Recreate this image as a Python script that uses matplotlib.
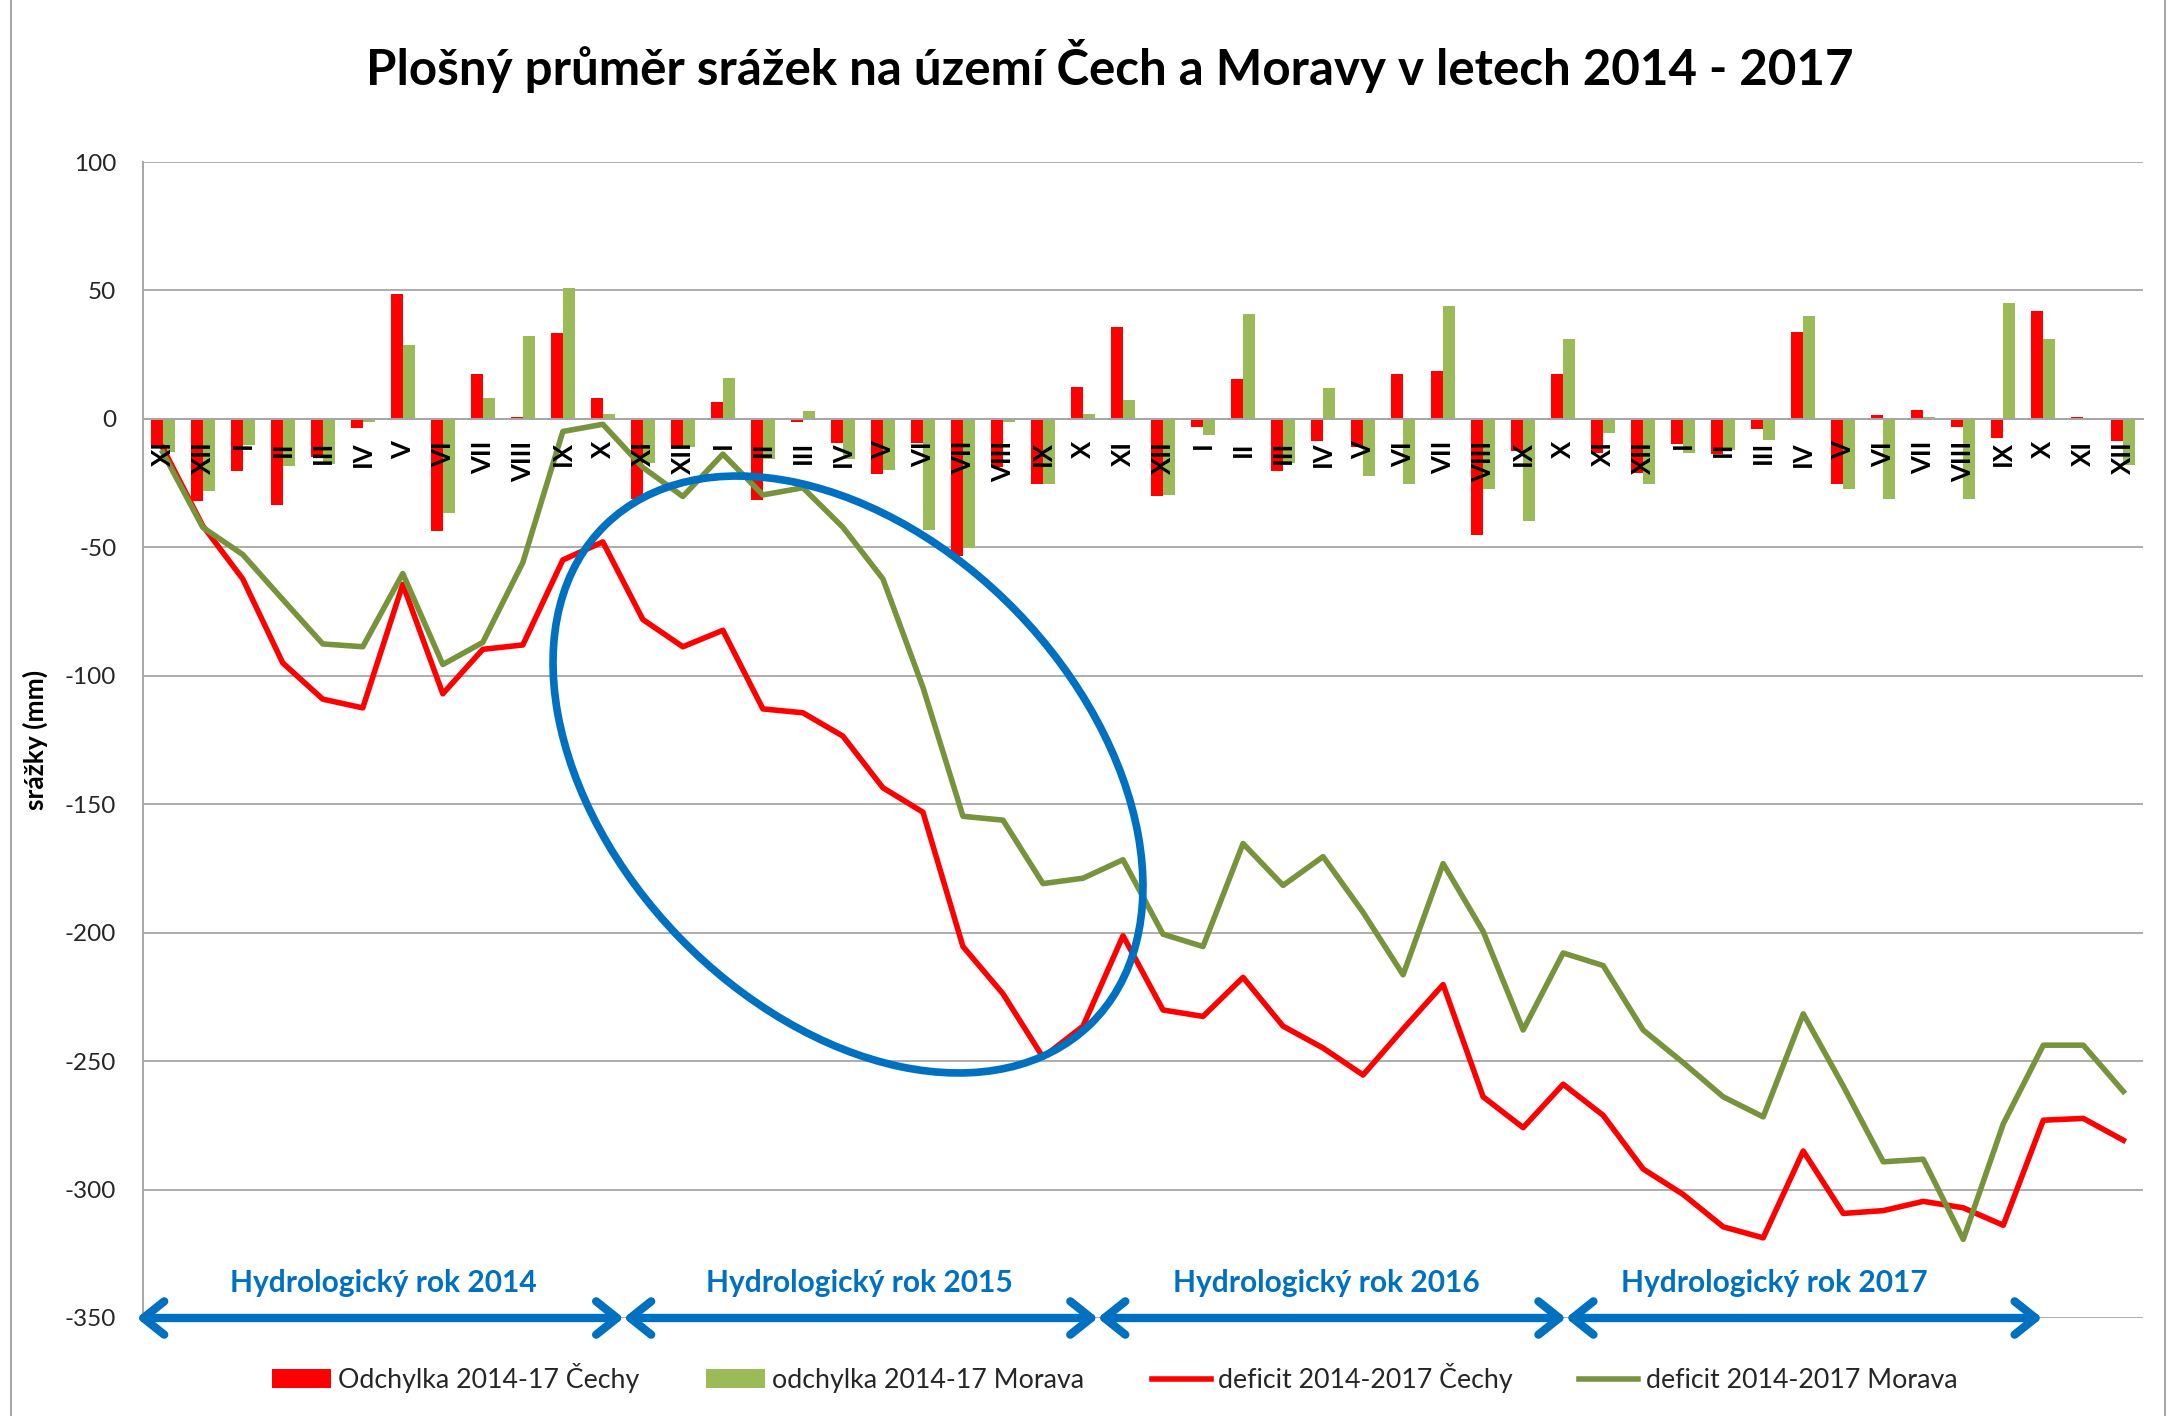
import matplotlib
matplotlib.use('Agg')
import matplotlib.pyplot as plt
from matplotlib.patches import Ellipse
from matplotlib.lines import Line2D
import numpy as np

plt.rcParams['font.family'] = ['Lato', 'DejaVu Sans']
plt.rcParams['axes.unicode_minus'] = False

#months XI 2013 .. XII 2017 (hydrological years 2014 - 2017)
months = ['XI', 'XII', 'I', 'II', 'III', 'IV', 'V', 'VI', 'VII', 'VIII', 'IX', 'X'] * 4 + ['XI', 'XII']

#monthly deviation of precipitation (mm)
odchylkaCechy = [-10.9, -32.0, -20.4, -33.4, -14.8, -3.7, 48.7, -43.6, 17.5, 0.8, 33.4, 8.1,
                 -31.0, -10.9, 6.4, -31.5, -1.3, -9.2, -21.6, -9.2, -53.4, -18.7, -25.5, 12.6,
                 35.6, -30.1, -3.0, 15.4, -20.4, -8.6, -10.9, 17.5, 18.8, -45.3, -12.6, 17.5,
                 -13.2, -20.9, -9.6, -13.7, -4.1, 34.0, -25.5, 1.4, 3.5, -3.0, -7.6, 41.9,
                 0.8, -8.6]
odchylkaMorava = [-13.0, -28.0, -10.0, -18.3, -17.7, -1.3, 28.8, -36.8, 8.1, 32.2, 50.9, 1.8,
                  -17.0, -11.0, 16.0, -15.8, 2.9, -15.8, -20.0, -43.3, -50.4, -1.3, -25.5, 1.8,
                  7.5, -29.6, -6.3, 40.7, -17.1, 12.0, -22.3, -25.5, 44.1, -27.4, -39.7, 31.2,
                  -5.4, -25.5, -13.2, -12.0, -8.2, 40.2, -27.4, -31.3, 0.8, -31.3, 45.3, 31.2,
                  -0.3, -18.0]

#cumulative deficit (mm)
deficitCechy = [-11.2, -41.6, -62.3, -95.0, -109.1, -112.5, -64.4, -107.0, -89.7, -88.0, -54.9, -47.9,
                -78.1, -88.7, -82.3, -112.9, -114.4, -123.5, -143.6, -153.1, -205.4, -223.8, -248.5, -236.4,
                -201.2, -230.1, -232.6, -217.4, -236.4, -244.9, -255.4, -237.5, -220.2, -263.9, -275.9, -259.0,
                -271.1, -292.0, -301.9, -314.5, -318.8, -285.0, -309.3, -308.2, -304.6, -307.1, -313.9, -273.0,
                -272.3, -280.8]
deficitMorava = [-13.0, -42.2, -52.8, -70.3, -87.6, -88.7, -60.2, -95.6, -87.0, -55.9, -4.9, -2.1,
                 -18.9, -30.2, -13.7, -29.6, -26.8, -42.2, -62.3, -104.5, -154.7, -156.2, -180.9, -178.8,
                 -171.6, -200.6, -205.4, -165.3, -181.6, -170.4, -192.1, -216.4, -173.1, -199.5, -237.9, -207.9,
                 -212.8, -237.9, -250.6, -263.9, -271.7, -231.6, -259.7, -289.2, -288.2, -319.4, -274.4, -243.8,
                 -243.8, -261.8]

yTicks = [100, 50, 0, -50, -100, -150, -200, -250, -300, -350]
yTickLabels = ['100', '50', '0', '-50', '-100', '-150', '-200', '-250', '-300', '-350']

hydroYears = ['Hydrologický rok 2014', 'Hydrologický rok 2015',
              'Hydrologický rok 2016', 'Hydrologický rok 2017']

#layout of the hand drawn arrows / labels (category units)
arrowStops = [-0.65, 11.52, 23.37, 35.07, 46.97]
labelPos = [5.52, 17.42, 29.08, 40.27]
BLUE = '#0070C0'
GRID = '#A6A6A6'

fig = plt.figure(figsize=(21.79, 14.16), dpi=100)
ax = fig.add_axes([0.06549, 0.06921, 0.91814, 0.81638])

x = np.arange(len(months))
barsC = ax.bar(x - 0.15, odchylkaCechy, width=0.3, color='#FF0000', zorder=2)
barsM = ax.bar(x + 0.15, odchylkaMorava, width=0.3, color='#9BBB59', zorder=2)
lineC, = ax.plot(x, deficitCechy, color='#FF0000', lw=4, zorder=3)
lineM, = ax.plot(x, deficitMorava, color='#77933C', lw=4, zorder=3)

ax.set_xlim(-0.5, len(months) - 0.5)
ax.set_ylim(-350, 100)

#axis at zero, labels hang just under it
for s in ['top', 'right']:
    ax.spines[s].set_visible(False)
ax.spines['bottom'].set_position(('data', 0))
ax.spines['bottom'].set_color(GRID)
ax.spines['bottom'].set_linewidth(1.4)
ax.spines['left'].set_color(GRID)
ax.spines['left'].set_linewidth(1.4)

ax.set_xticks(x)
ax.set_xticklabels(months, rotation=90, fontweight='bold', fontsize=18.5, color='black')
ax.tick_params(axis='x', length=0, pad=16)
ax.set_yticks(yTicks)
ax.set_yticklabels(yTickLabels)
ax.tick_params(axis='y', length=0, pad=19, labelsize=17.5, labelcolor='#262626')
ax.yaxis.grid(True, color=GRID, lw=1.3)
ax.set_axisbelow(True)
ax.xaxis.set_zorder(3.5)

ax.set_ylabel('srážky (mm)', fontweight='bold', fontsize=19)
ax.yaxis.set_label_coords(-0.0472, 0.5)

fig.text(1110 / 2179, 1 - 66 / 1416, 'Plošný průměr srážek na území Čech a Moravy v letech 2014 - 2017',
         ha='center', va='center', fontsize=35.5, fontweight='bold')

#hydrological year arrows
for i in range(4):
    ax.annotate('', xy=(arrowStops[i + 1], -350), xytext=(arrowStops[i], -350),
                arrowprops=dict(arrowstyle='<->,head_length=15,head_width=12', mutation_scale=1,
                                color=BLUE, lw=6, shrinkA=0, shrinkB=0,
                                capstyle='round', joinstyle='round'),
                annotation_clip=False)
    ax.text(labelPos[i], -336.3, hydroYears[i], color=BLUE, fontweight='bold', fontsize=21.5,
            ha='center', va='center')

#highlight ellipse (drawn in figure inches)
fig.add_artist(Ellipse((8.48, 6.415), 6.96, 4.69, angle=-45.9, transform=fig.dpi_scale_trans,
                       fill=False, edgecolor=BLUE, lw=5.5))

#chart frame
fig.add_artist(Line2D([11 / 2179, 11 / 2179], [0, 1], transform=fig.transFigure, color=GRID, lw=1.5))
fig.add_artist(Line2D([2165 / 2179, 2165 / 2179], [0, 1], transform=fig.transFigure, color=GRID, lw=1.5))

fig.legend([barsC, barsM, lineC, lineM],
           ['Odchylka 2014-17 Čechy', 'odchylka 2014-17 Morava', 'deficit 2014-2017 Čechy', 'deficit 2014-2017 Morava'],
           loc='center', bbox_to_anchor=(1114.5 / 2179, 1 - 1378 / 1416), ncol=4, frameon=False,
           fontsize=19.3, handlelength=2.2, handleheight=0.7, handletextpad=0.27, columnspacing=2.5,
           labelcolor='#262626')

fig.savefig('out.png', dpi=100)
